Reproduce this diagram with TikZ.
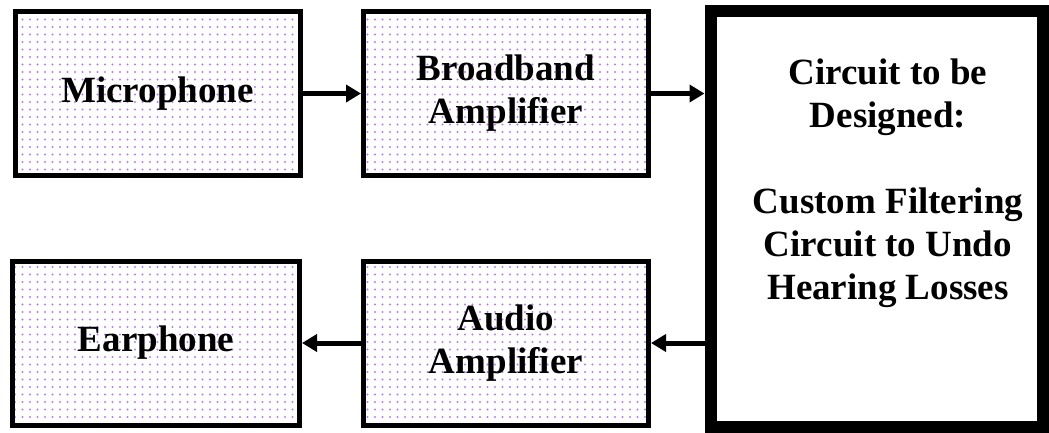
\documentclass[tikz,border=0pt]{standalone}
\usepackage{fontspec}
\setmainfont{Liberation Serif}
\usetikzlibrary{arrows.meta,patterns.meta,positioning}
\definecolor{dotpurple}{RGB}{185,125,245}

\begin{document}
\begin{tikzpicture}[x=1pt, y=-1pt,
    every node/.style={font=\bfseries\fontsize{37}{43}\selectfont, align=center, inner sep=0pt},
    blockbox/.style={draw, line width=5pt, minimum width=285pt, minimum height=164pt,
        preaction={fill=white}, pattern={Dots[distance=7.5pt, radius=1.2pt]}, pattern color=dotpurple},
    flow/.style={line width=5pt, -{Triangle[length=15pt, width=17pt]}}]
% Hearing aid chain: input path on top, output path below

\useasboundingbox (0,0) rectangle (1049,432);

% Input side
\node[blockbox] (mic) at (157.5, 93.5) {Microphone};
\node[blockbox] (bba) at (506, 93.5) {Broadband\\Amplifier};

% Block still to be designed (heavy border, plain fill)
\node[draw, line width=12pt, minimum width=332.5pt, minimum height=415.5pt, fill=white] (cktbox) at (876.75, 218.75) {};
\node (ckttext) at (888, 183.5) {Circuit to be\\Designed:\\[43pt]Custom Filtering\\Circuit to Undo\\Hearing Losses};

% Output side
\node[blockbox, minimum width=287pt] (ear) at (156, 343) {Earphone};
\node[blockbox] (aud) at (506, 343) {Audio\\Amplifier};

% Signal flow
\draw[flow] (mic.east) -- (bba.west);
\draw[flow] (bba.east) -- (bba.east -| cktbox.west);
\draw[flow] (cktbox.west |- aud.east) -- (aud.east);
\draw[flow] (aud.west) -- (ear.east);

\end{tikzpicture}
\end{document}
